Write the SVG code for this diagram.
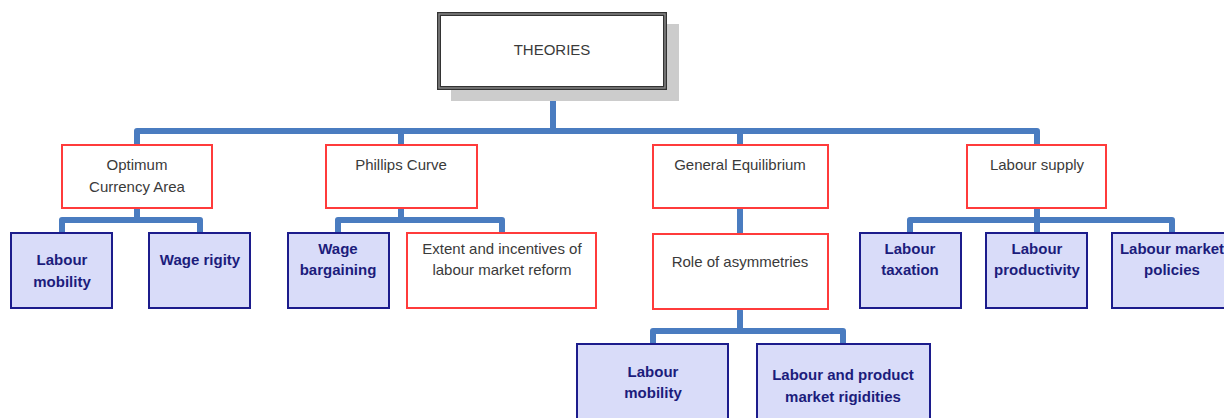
<svg xmlns="http://www.w3.org/2000/svg" width="1224" height="418" viewBox="0 0 1224 418">
<style>
.red{fill:#ffffff;stroke:#ff3b3b;stroke-width:2}
.blue{fill:#d9dcf9;stroke:#1c1c8c;stroke-width:2}
.t1{font-family:"Liberation Sans",Arial,sans-serif;font-size:15px;fill:#3a3a3a;text-anchor:middle}
.t2{font-family:"Liberation Sans",Arial,sans-serif;font-size:15px;font-weight:bold;fill:#1c1c7c;text-anchor:middle}
.conn{fill:none;stroke:#4a7cc0;stroke-width:6;stroke-linejoin:round;stroke-linecap:round}
</style>
<rect width="1224" height="418" fill="#ffffff"/>
<g id="connectors">
<path class="conn" d="M553,90 V131"/>
<path class="conn" d="M137,144 V131 H1037 V144"/>
<path class="conn" d="M401,131 V144"/>
<path class="conn" d="M740,131 V144"/>
<path class="conn" d="M137,209 V220"/>
<path class="conn" d="M62,232 V220 H200 V232"/>
<path class="conn" d="M401,209 V220"/>
<path class="conn" d="M338,232 V220 H502 V232"/>
<path class="conn" d="M740,209 V233"/>
<path class="conn" d="M740,311 V331"/>
<path class="conn" d="M653,343 V331 H843 V343"/>
<path class="conn" d="M1037,209 V220"/>
<path class="conn" d="M910,232 V220 H1172 V232"/>
<path class="conn" d="M1037,220 V232"/>
</g>
<g id="theories">
<rect x="451" y="24" width="228" height="77" fill="#cccccc"/>
<rect x="439" y="14" width="226" height="74" fill="#ffffff" stroke="#333333" stroke-width="4"/>
<rect x="439" y="14" width="226" height="74" fill="none" stroke="#8a8a8a" stroke-width="1.4"/>
<text class="t1" x="552" y="55">THEORIES</text>
</g>
<g id="oca">
<rect class="red" x="62" y="145" width="150" height="63"/>
<text class="t1" x="137" y="170">Optimum</text>
<text class="t1" x="137" y="192">Currency Area</text>
</g>
<g id="phillips">
<rect class="red" x="326" y="145" width="151" height="63"/>
<text class="t1" x="401" y="170">Phillips Curve</text>
</g>
<g id="general">
<rect class="red" x="653" y="145" width="175" height="63"/>
<text class="t1" x="740" y="170">General Equilibrium</text>
</g>
<g id="laboursupply">
<rect class="red" x="967" y="145" width="139" height="63"/>
<text class="t1" x="1037" y="170">Labour supply</text>
</g>
<g id="labourmobility1">
<rect class="blue" x="11" y="233" width="101" height="75"/>
<text class="t2" x="62" y="265">Labour</text>
<text class="t2" x="62" y="287">mobility</text>
</g>
<g id="wagerigity">
<rect class="blue" x="149" y="233" width="101" height="75"/>
<text class="t2" x="200" y="265">Wage rigity</text>
</g>
<g id="wagebargaining">
<rect class="blue" x="288" y="233" width="101" height="75"/>
<text class="t2" x="338" y="254">Wage</text>
<text class="t2" x="338" y="275">bargaining</text>
</g>
<g id="extent">
<rect class="red" x="407" y="233" width="189" height="75"/>
<text class="t1" x="502" y="254">Extent and incentives of</text>
<text class="t1" x="502" y="275">labour market reform</text>
</g>
<g id="role">
<rect class="red" x="653" y="234" width="175" height="75"/>
<text class="t1" x="740" y="267">Role of asymmetries</text>
</g>
<g id="labourmobility2">
<rect class="blue" x="577" y="344" width="151" height="80"/>
<text class="t2" x="653" y="377">Labour</text>
<text class="t2" x="653" y="398">mobility</text>
</g>
<g id="rigidities">
<rect class="blue" x="757" y="344" width="173" height="80"/>
<text class="t2" x="843" y="380">Labour and product</text>
<text class="t2" x="843" y="402">market rigidities</text>
</g>
<g id="taxation">
<rect class="blue" x="860" y="233" width="101" height="75"/>
<text class="t2" x="910" y="254">Labour</text>
<text class="t2" x="910" y="275">taxation</text>
</g>
<g id="productivity">
<rect class="blue" x="986" y="233" width="101" height="75"/>
<text class="t2" x="1037" y="254">Labour</text>
<text class="t2" x="1037" y="275">productivity</text>
</g>
<g id="policies">
<rect class="blue" x="1112" y="233" width="120" height="75"/>
<text class="t2" x="1172" y="254">Labour market</text>
<text class="t2" x="1172" y="275">policies</text>
</g>
</svg>
